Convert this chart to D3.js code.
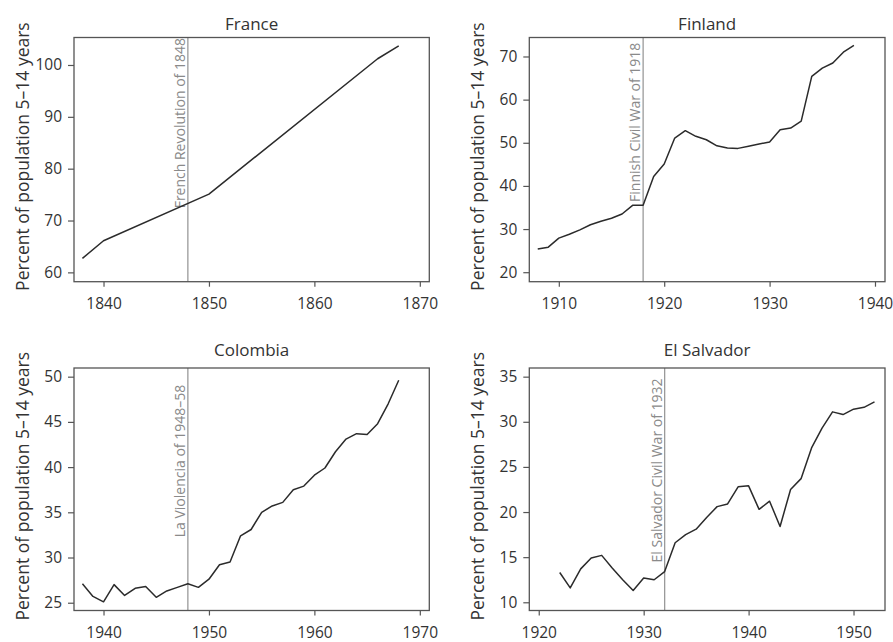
<!DOCTYPE html>
<html>
<head>
<meta charset="utf-8">
<script src="https://cdn.jsdelivr.net/npm/d3@7"></script>
<style>
body{margin:0;background:#fff;}
text{font-family:"Open Sans",sans-serif;}
</style>
</head>
<body>
<div id="chart"></div>
<script>
// values
var countries = ["France","Finland","Colombia","El Salvador"];

var franceYears = [1838,1840,1850,1866,1868];
var franceValues = [62.7,66.1,75.1,101.2,103.7];

var finlandYears = [1908,1909,1910,1911,1912,1913,1914,1915,1916,1917,1918,1919,1920,1921,1922,1923,
	1924,1925,1926,1927,1928,1929,1930,1931,1932,1933,1934,1935,1936,1937,1938];
var finlandValues = [25.4,25.8,27.9,28.8,29.8,31.0,31.8,32.5,33.5,35.5,35.5,42.2,45.1,51.1,52.8,51.5,
	50.7,49.3,48.8,48.7,49.2,49.7,50.2,53.0,53.4,55.0,65.4,67.3,68.5,71.0,72.6];

var colombiaYears = [1938,1939,1940,1941,1942,1943,1944,1945,1946,1947,1948,1949,1950,1951,1952,1953,
	1954,1955,1956,1957,1958,1959,1960,1961,1962,1963,1964,1965,1966,1967,1968];
var colombiaValues = [27.1,25.7,25.1,27.0,25.8,26.6,26.8,25.6,26.3,26.7,27.1,26.7,27.6,29.2,29.5,32.4,
	33.1,35.0,35.7,36.1,37.5,37.9,39.1,39.9,41.7,43.1,43.7,43.6,44.8,47.0,49.6];

var salvadorYears = [1922,1923,1924,1925,1926,1927,1928,1929,1930,1931,1932,1933,1934,1935,1936,1937,
	1938,1939,1940,1941,1942,1943,1944,1945,1946,1947,1948,1949,1950,1951,1952];
var salvadorValues = [13.3,11.6,13.7,14.9,15.2,13.8,12.5,11.3,12.7,12.5,13.4,16.6,17.5,18.1,19.4,20.6,
	20.9,22.8,22.9,20.3,21.2,18.4,22.5,23.7,27.1,29.3,31.1,30.8,31.4,31.6,32.2];

var xTicks = [[1840,1850,1860,1870],[1910,1920,1930,1940],[1940,1950,1960,1970],[1920,1930,1940,1950]];
var yTicks = [[60,70,80,90,100],[20,30,40,50,60,70],[25,30,35,40,45,50],[10,15,20,25,30,35]];
var xDomains = [[1837.2,1870.9],[1907.2,1940.95],[1937.2,1970.9],[1919.1,1953.0]];
var yDomains = [[58.2,105.3],[17.8,74.4],[24.14,50.96],[9.09,35.96]];

var eventYears = [1848,1918,1948,1932];
var eventLabels = ["French Revolution of 1848","Finnish Civil War of 1918","La Violencia of 1948\u201358","El Salvador Civil War of 1932"];
var eventLabelTop = [105.2,73.2,49.1,34.8];

var yLabel = "Percent of population 5\u201314 years";

var series = [
	{years:franceYears, values:franceValues},
	{years:finlandYears, values:finlandValues},
	{years:colombiaYears, values:colombiaValues},
	{years:salvadorYears, values:salvadorValues}
];

var W = 893, H = 642;
var colLeft = [74,529.3], colRight = [429.3,885];
var rowTop = [37.5,368], rowBottom = [281.7,610.5];
var titleY = [30,356];

var svg = d3.select("#chart").append("svg")
	.attr("width",W).attr("height",H)
	.style("background","#fff");

function drawPanel(k){
	var c = k % 2, r = Math.floor(k/2);
	var x0 = colLeft[c], x1 = colRight[c], y0 = rowTop[r], y1 = rowBottom[r];
	var x = d3.scaleLinear().domain(xDomains[k]).range([x0,x1]);
	var y = d3.scaleLinear().domain(yDomains[k]).range([y1,y0]);
	var g = svg.append("g");

	// event marker
	var ex = x(eventYears[k]);
	g.append("line").attr("x1",ex).attr("x2",ex).attr("y1",y0).attr("y2",y1)
		.attr("stroke","#9a9a9a").attr("stroke-width",1.3);
	g.append("text").text(eventLabels[k])
		.attr("transform","translate("+(ex-3)+","+y(eventLabelTop[k])+") rotate(-90)")
		.attr("text-anchor","end")
		.attr("font-size","14px")
		.attr("fill","#8a8a8a");

	// data line
	var pts = series[k].years.map(function(d,i){ return [d, series[k].values[i]]; });
	g.append("path").datum(pts)
		.attr("d",d3.line().x(function(d){ return x(d[0]); }).y(function(d){ return y(d[1]); }))
		.attr("fill","none").attr("stroke","#2b2b2b").attr("stroke-width",1.5)
		.attr("stroke-linejoin","round");

	// axes
	var xa = g.append("g").attr("transform","translate(0,"+y1+")")
		.call(d3.axisBottom(x).tickValues(xTicks[k]).tickFormat(d3.format("d")).tickSize(5).tickPadding(11));
	var ya = g.append("g").attr("transform","translate("+x0+",0)")
		.call(d3.axisLeft(y).tickValues(yTicks[k]).tickFormat(d3.format("d")).tickSize(6).tickPadding(6));
	[xa,ya].forEach(function(a){
		a.select(".domain").remove();
		a.selectAll("line").attr("stroke","#555").attr("stroke-width",1.2);
		a.selectAll("text").attr("font-size","15.5px").attr("fill","#333")
			.attr("font-family","'Open Sans',sans-serif");
	});

	// box
	g.append("rect").attr("x",x0).attr("y",y0).attr("width",x1-x0).attr("height",y1-y0)
		.attr("fill","none").attr("stroke","#555").attr("stroke-width",1.3);

	// titles
	g.append("text").text(countries[k])
		.attr("x",(x0+x1)/2).attr("y",titleY[r])
		.attr("text-anchor","middle").attr("font-size","17px").attr("fill","#333");
	g.append("text").text(yLabel)
		.attr("transform","translate("+(x0-45)+","+((y0+y1)/2-3)+") rotate(-90)")
		.attr("text-anchor","middle").attr("font-size","17.5px").attr("fill","#333");
}

for (var k = 0; k < countries.length; k++) {
	drawPanel(k);
}
</script>
</body>
</html>
